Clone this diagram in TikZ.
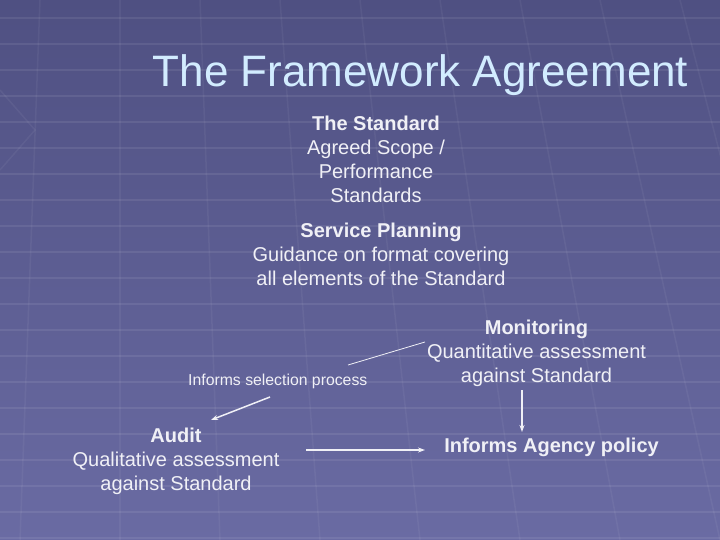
\documentclass[tikz,border=0pt]{standalone}
\usepackage{fontspec}
\setmainfont{Liberation Sans}
\usetikzlibrary{arrows.meta}
\definecolor{bgtop}{HTML}{4F5082}
\definecolor{bgbot}{HTML}{6A6BA3}
\definecolor{titlecol}{HTML}{D2ECFF}
\definecolor{txt}{HTML}{F0F0F6}
\tikzset{
  body/.style={inner sep=0pt, text=txt, align=center, font=\fontsize{20}{23.8}\selectfont},
  smalltxt/.style={inner sep=0pt, text=txt, font=\fontsize{15.8}{19}\selectfont},
  conn/.style={draw=txt, line width=1.5pt, -{Stealth[length=7pt,width=5pt]}},
  thin/.style={draw=txt, line width=0.8pt},
  grid/.style={draw=white, opacity=0.08, line width=2pt},
  vgrid/.style={draw=white, opacity=0.05, line width=1.5pt}
}
\begin{document}
\begin{tikzpicture}[x=1pt,y=-1pt]
\useasboundingbox (0,0) rectangle (720,540);
\shade[top color=bgtop, bottom color=bgbot] (0,0) rectangle (720,540);
% faint perspective grid
\foreach \y in {18,44,70,96,122,148,174,200,226,252,278,304,330,356,382,408,434,460,486,512,538}
  \draw[grid] (0,\y) -- (720,\y);
\foreach \x/\d in {-120/-60,-40/-40,40/-20,120/0,200/20,280/40,360/60,440/80,520/100,600/120,680/140,760/160}
  \draw[vgrid] (\x,0) -- (\x+\d,540);
\draw[vgrid] (0,90) -- (35,130) -- (0,170);

\node[anchor=base, text=titlecol, inner sep=0pt, font=\fontsize{44}{50}\selectfont] (title) at (420.5,87) {The Framework Agreement};

\node[body, anchor=north] (std) at (376,116) {\textbf{The Standard}\\Agreed Scope /\\Performance\\Standards};
\node[body, anchor=north] (plan) at (381,223) {\textbf{Service Planning}\\Guidance on format covering\\all elements of the Standard};
\node[smalltxt, anchor=base west] (sel) at (188,385) {Informs selection process};
\node[body, anchor=north] (mon) at (536.5,320) {\textbf{Monitoring}\\Quantitative assessment\\against Standard};
\node[body, anchor=north] (aud) at (176,428) {\textbf{Audit}\\Qualitative assessment\\against Standard};
\node[body, anchor=base, font=\bfseries\fontsize{20}{23.8}\selectfont] (pol) at (551.5,452) {Informs Agency policy};

\coordinate (selA) at (270,397);
\coordinate (audA) at (211,420);
\coordinate (selB) at (348,365);
\coordinate (monB) at (425,342);
\coordinate (audC) at (306,450);
\coordinate (polC) at (425,450);
\coordinate (monD) at (522,390);
\coordinate (polD) at (522,432);

\draw[conn] (selA) -- (audA);
\draw[thin] (selB) -- (monB);
\draw[conn] (audC) -- (polC);
\draw[conn] (monD) -- (polD);
\end{tikzpicture}
\end{document}
